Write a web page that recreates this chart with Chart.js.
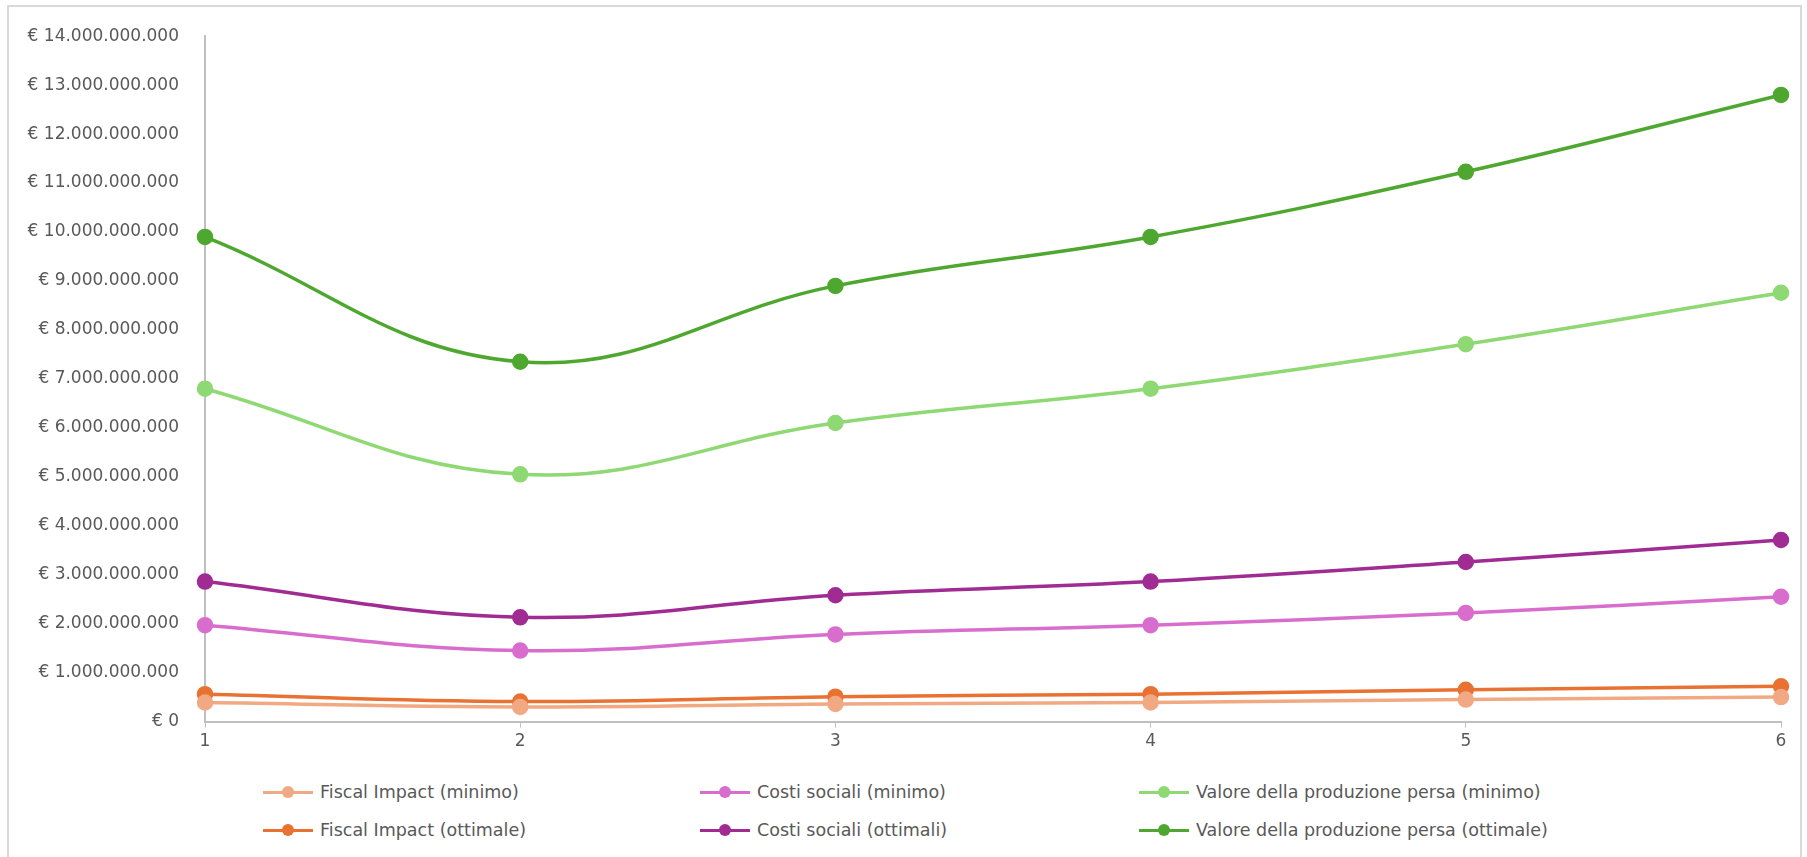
<!DOCTYPE html>
<html>
<head>
<meta charset="utf-8">
<script src="https://cdn.jsdelivr.net/npm/chart.js@4.4.1/dist/chart.umd.min.js"></script>
<style>
    body { margin: 0; background: #fff; font-family: 'DejaVu Sans', sans-serif; }
    .frame { position: absolute; left: 7px; top: 5px; width: 1795px; height: 870px; border: 2px solid #d9d9d9; box-sizing: border-box; }
    .chart-box { position: absolute; left: 8px; top: 8px; width: 1790px; height: 748px; }
    .legend { position: absolute; left: 263px; top: 778px; display: grid; grid-template-columns: 437px 439px 460px; row-gap: 10px; }
    .legend-item { display: flex; align-items: center; height: 28px; font-size: 17.5px; color: #595959; white-space: nowrap; }
    .legend-mark { position: relative; width: 50px; height: 3px; margin-right: 7px; }
    .legend-mark span { position: absolute; left: 19px; top: -5px; width: 12px; height: 12px; border-radius: 50%; }
</style>
</head>
<body>
<div class="frame"></div>
<div class="chart-box"><canvas id="lossChart"></canvas></div>
<div class="legend" id="legend"></div>
<script>
// Dati
const categories = ['1', '2', '3', '4', '5', '6'];
const fiscalMin = [390e6, 300e6, 360e6, 390e6, 450e6, 500e6];
const costiMin = [1.97e9, 1.45e9, 1.78e9, 1.97e9, 2.22e9, 2.55e9];
const valoreMin = [6.8e9, 5.05e9, 6.1e9, 6.8e9, 7.71e9, 8.76e9];
const fiscalOtt = [560e6, 410e6, 510e6, 560e6, 650e6, 720e6];
const costiOtt = [2.86e9, 2.13e9, 2.58e9, 2.86e9, 3.26e9, 3.71e9];
const valoreOtt = [9.9e9, 7.35e9, 8.9e9, 9.9e9, 11.23e9, 12.8e9];
const yTicks = [0, 1e9, 2e9, 3e9, 4e9, 5e9, 6e9, 7e9, 8e9, 9e9, 10e9, 11e9, 12e9, 13e9, 14e9];

function euro(v) {
    return '€ ' + Math.round(v).toString().replace(/\B(?=(\d{3})+(?!\d))/g, '.');
}

function serie(label, data, color) {
    return {
        label: label,
        data: data,
        borderColor: color,
        backgroundColor: color,
        borderWidth: 3.5,
        pointRadius: 6.5,
        pointHoverRadius: 7,
        tension: 0.4
    };
}

const axisColor = '#bfbfbf';
const textColor = '#595959';
const tickFont = { family: "'DejaVu Sans', sans-serif", size: 17 };

const chart = new Chart(document.getElementById('lossChart'), {
    type: 'line',
    data: {
        labels: categories,
        datasets: [
            serie('Fiscal Impact (minimo)', fiscalMin, '#F1A983'),
            serie('Costi sociali (minimo)', costiMin, '#D86DCD'),
            serie('Valore della produzione persa (minimo)', valoreMin, '#8ED973'),
            serie('Fiscal Impact (ottimale)', fiscalOtt, '#E97132'),
            serie('Costi sociali (ottimali)', costiOtt, '#A02B93'),
            serie('Valore della produzione persa (ottimale)', valoreOtt, '#4EA72E')
        ]
    },
    options: {
        responsive: true,
        maintainAspectRatio: false,
        animation: false,
        layout: { padding: { top: 12, right: 17, left: 0, bottom: 0 } },
        plugins: {
            legend: { display: false },
            tooltip: { enabled: false }
        },
        scales: {
            x: {
                offset: false,
                grid: { drawOnChartArea: false, drawTicks: true, tickLength: 6, color: axisColor },
                border: { color: axisColor, width: 2 },
                ticks: { color: textColor, font: tickFont, padding: 4 }
            },
            y: {
                min: 0,
                max: 14e9,
                afterBuildTicks: function(scale) {
                    scale.ticks = yTicks.map(function(v) { return { value: v }; });
                },
                afterFit: function(scale) { scale.width = 197; },
                grid: { display: false },
                border: { color: axisColor, width: 2 },
                ticks: {
                    color: textColor,
                    font: tickFont,
                    padding: 18,
                    callback: function(value) { return euro(value); }
                }
            }
        }
    }
});

// Legenda HTML a griglia (3 colonne come nell'originale)
const legendBox = document.getElementById('legend');
chart.data.datasets.forEach(function(ds) {
    const item = document.createElement('div');
    item.className = 'legend-item';
    item.innerHTML = '<div class="legend-mark" style="background:' + ds.borderColor + '">' +
        '<span style="background:' + ds.borderColor + '"></span></div>' + ds.label;
    legendBox.appendChild(item);
});
</script>
</body>
</html>
